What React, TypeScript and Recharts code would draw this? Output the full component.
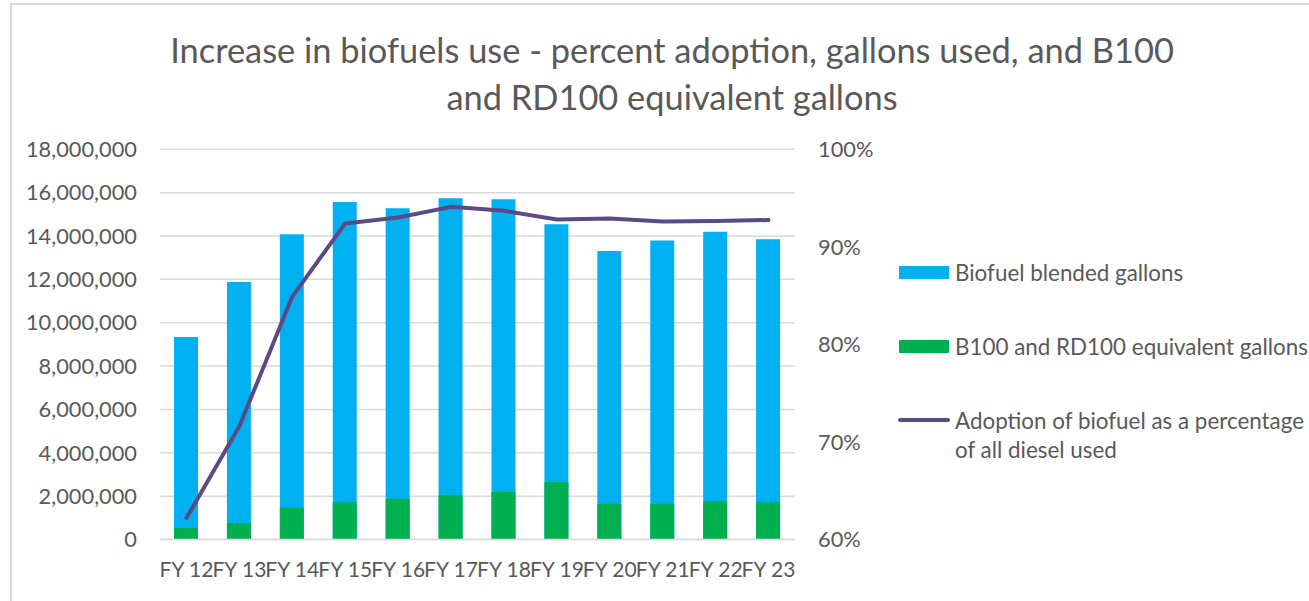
import React from 'react';
import { ComposedChart, Bar, Line, XAxis, YAxis, CartesianGrid, Legend } from 'recharts';

const categories = ['FY 12', 'FY 13', 'FY 14', 'FY 15', 'FY 16', 'FY 17', 'FY 18', 'FY 19', 'FY 20', 'FY 21', 'FY 22', 'FY 23'];
const blendedGallons = [9340000, 11880000, 14080000, 15570000, 15280000, 15740000, 15700000, 14540000, 13310000, 13790000, 14200000, 13850000];
const b100Gallons = [530000, 750000, 1470000, 1720000, 1880000, 2050000, 2190000, 2650000, 1650000, 1650000, 1760000, 1720000];
const adoptionPct = [0.622, 0.716, 0.849, 0.924, 0.93, 0.941, 0.937, 0.928, 0.929, 0.926, 0.9265, 0.9275];

const leftTicks = [0, 2000000, 4000000, 6000000, 8000000, 10000000, 12000000, 14000000, 16000000, 18000000];
const rightTicks = [0.6, 0.7, 0.8, 0.9, 1.0];

const titleLines = ['Increase in biofuels use - percent adoption, gallons used, and B100', 'and RD100 equivalent gallons'];

const seriesNames = ['Biofuel blended gallons', 'B100 and RD100 equivalent gallons', 'Adoption of biofuel as a percentage of all diesel used'];
const legendLines = [['Biofuel blended gallons'], ['B100 and RD100 equivalent gallons'], ['Adoption of biofuel as a percentage', 'of all diesel used']];
const colors = ['#00B0F0', '#00B050', '#5E4A83'];

const data = categories.map((c, i) => ({
  name: c,
  blended: blendedGallons[i],
  b100: b100Gallons[i],
  adoption: adoptionPct[i],
}));

const FONT = 'Lato, sans-serif';
const TEXT = '#595959';

const fmtNum = (v: number) => v.toLocaleString('en-US');
const fmtPct = (v: number) => `${Math.round(v * 100)}%`;

function LegendContent() {
  return (
    <div style={{ position: 'relative', width: 410, fontFamily: FONT, fontSize: 22.4, color: TEXT }}>
      {legendLines.map((lines, i) => (
        <div key={i} style={{ position: 'absolute', left: 0, top: i * 74, display: 'flex', alignItems: 'flex-start' }}>
          <div style={{ width: 57, height: 28, display: 'flex', alignItems: 'center', justifyContent: 'flex-start' }}>
            {i < 2 ? (
              <div style={{ width: 50, height: 13, background: colors[i], marginLeft: 1 }} />
            ) : (
              <div style={{ width: 52, height: 4, borderRadius: 2, background: colors[i], marginLeft: 0 }} />
            )}
          </div>
          <div style={{ lineHeight: '29px', whiteSpace: 'nowrap' }}>
            {lines.map((l, j) => (
              <div key={j}>{l}</div>
            ))}
          </div>
        </div>
      ))}
    </div>
  );
}

export default function App() {
  return (
    <div style={{ position: 'fixed', left: 0, top: 0, width: 1309, height: 601, overflow: 'hidden', background: '#fff', fontFamily: FONT }}>
      <div style={{ position: 'absolute', left: 10, top: 3, width: 1400, height: 700, border: '2px solid #D9D9D9', boxSizing: 'border-box' }} />
      <div style={{ position: 'absolute', left: 0, top: 26, width: 1344, textAlign: 'center', fontSize: 34.4, lineHeight: '47px', color: TEXT, fontFamily: FONT }}>
        {titleLines.map((t, i) => (
          <div key={i}>{t}</div>
        ))}
      </div>
      <div style={{ position: 'absolute', left: 0, top: 0 }}>
        <ComposedChart
          width={1309}
          height={601}
          data={data}
          margin={{ top: 149.3, right: 414, bottom: 21.5, left: 0 }}
          barGap={-24}
        >
          <CartesianGrid yAxisId="left" vertical={false} stroke="#D9D9D9" strokeWidth={1.5} />
          <XAxis
            dataKey="name"
            interval={0}
            height={40}
            tickLine={false}
            tickSize={6}
            tickMargin={17}
            axisLine={{ stroke: '#D9D9D9', strokeWidth: 1.5 }}
            tick={{ fill: TEXT, fontSize: 21, fontFamily: FONT }}
          />
          <YAxis
            yAxisId="left"
            orientation="left"
            width={160}
            domain={[0, 18000000]}
            ticks={leftTicks}
            tickFormatter={fmtNum}
            axisLine={false}
            tickLine={false}
            tickSize={6}
            tickMargin={17}
            tick={{ fill: TEXT, fontSize: 21.8, fontFamily: FONT }}
          />
          <YAxis
            yAxisId="right"
            orientation="right"
            width={100}
            domain={[0.6, 1.0]}
            ticks={rightTicks}
            tickFormatter={fmtPct}
            axisLine={false}
            tickLine={false}
            tickSize={6}
            tickMargin={17}
            tick={{ fill: TEXT, fontSize: 21.8, fontFamily: FONT, textAnchor: 'start' }}
          />
          <Bar yAxisId="left" dataKey="blended" name={seriesNames[0]} fill={colors[0]} barSize={24} isAnimationActive={false} />
          <Bar yAxisId="left" dataKey="b100" name={seriesNames[1]} fill={colors[1]} barSize={24} isAnimationActive={false} />
          <Line
            yAxisId="right"
            dataKey="adoption"
            name={seriesNames[2]}
            stroke={colors[2]}
            strokeWidth={4}
            strokeLinecap="round"
            strokeLinejoin="round"
            dot={false}
            activeDot={false}
            isAnimationActive={false}
          />
          <Legend
            layout="horizontal"
            verticalAlign="middle"
            align="center"
            content={() => <LegendContent />}
            wrapperStyle={{ position: 'absolute', left: 898, top: 258, width: 410, height: 200 }}
          />
        </ComposedChart>
      </div>
    </div>
  );
}
